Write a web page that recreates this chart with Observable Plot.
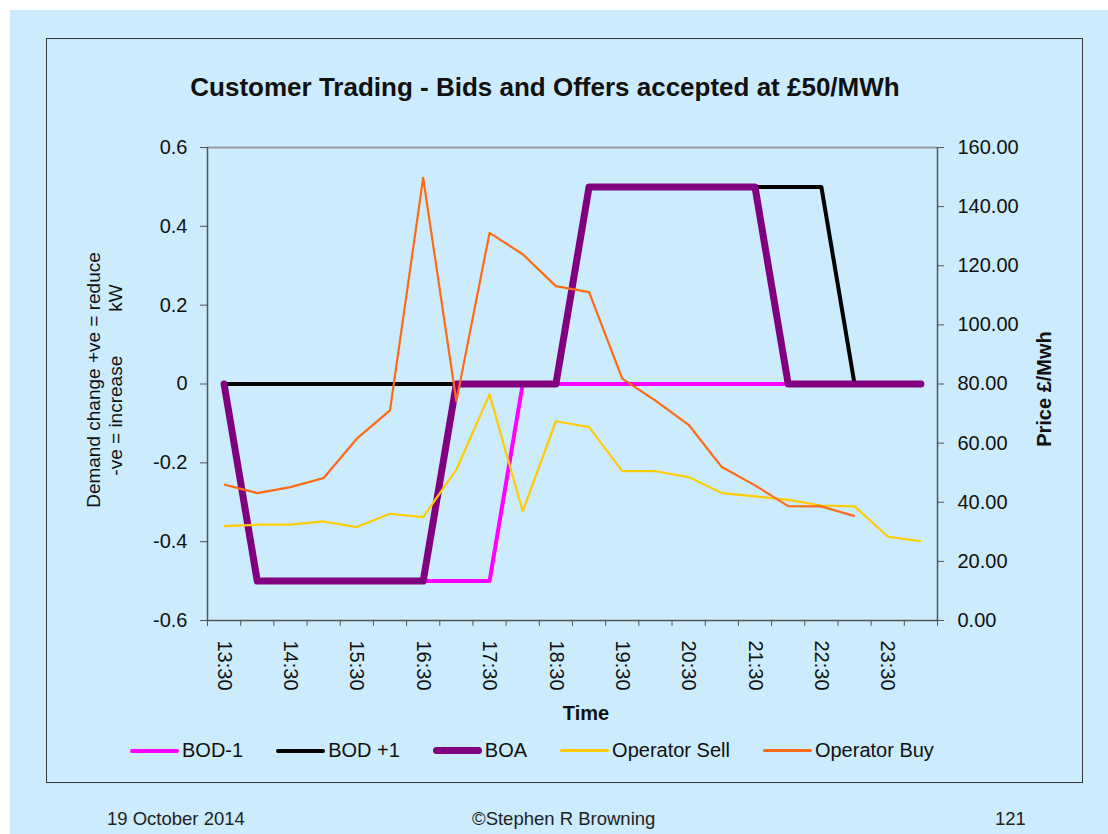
<!DOCTYPE html>
<html>
<head>
<meta charset="utf-8">
<script src="https://cdn.jsdelivr.net/npm/d3@7"></script>
<script src="https://cdn.jsdelivr.net/npm/@observablehq/plot@0.6"></script>
<style>
  body { margin: 0; background: #ffffff; }
  #page { position: relative; width: 1108px; height: 834px; overflow: hidden;
          font-family: "Liberation Sans", Arial, sans-serif; color: #111; }
  #bg { position: absolute; left: 10px; top: 10px; right: 0; bottom: 0; background: #CCEBFC; }
  #box { position: absolute; left: 46px; top: 38px; width: 1035px; height: 743px;
         border: 1.5px solid #3a3a3a; }
  #chart { position: absolute; left: 0; top: 0; }
  .title { position: absolute; left: 0; width: 1090px; top: 72px; text-align: center;
           font-weight: bold; font-size: 26px; }
  .ylab { position: absolute; left: 105px; top: 380px; width: 0; height: 0; }
  .ylab div { position: absolute; transform: translate(-50%, -50%) rotate(-90deg);
              white-space: pre; text-align: center; font-size: 19px; line-height: 22px; }
  .ylab2 { position: absolute; left: 1044px; top: 389px; width: 0; height: 0; }
  .ylab2 div { position: absolute; transform: translate(-50%, -50%) rotate(-90deg);
               white-space: pre; font-size: 20px; font-weight: bold; }
  .xlab { position: absolute; left: 0; width: 1172px; top: 702px; text-align: center;
          font-size: 20px; font-weight: bold; }
  #legend { position: absolute; left: 130px; top: 739px; display: flex; gap: 33px;
            font-size: 20px; align-items: center; }
  .item { display: flex; align-items: center; }
  .swatch { width: 49px; margin-right: 3px; border-radius: 4px; }
  .foot { position: absolute; top: 808px; font-size: 18.5px; color: #222; }
</style>
</head>
<body>
<div id="page">
  <div id="bg"></div>
  <div id="box"></div>
  <div id="chart"></div>
  <div class="title">Customer Trading - Bids and Offers accepted at £50/MWh</div>
  <div class="ylab"><div>Demand change +ve = reduce
-ve = increase<span style="display:inline-block;width:44px"></span>kW</div></div>
  <div class="ylab2"><div>Price £/Mwh</div></div>
  <div class="xlab">Time</div>
  <div id="legend"></div>
  <div class="foot" style="left:107px">19 October 2014</div>
  <div class="foot" style="left:472px">©Stephen R Browning</div>
  <div class="foot" style="left:995px">121</div>
</div>
<script>
// ---- data ----
const categories = ["13:30","14:00","14:30","15:00","15:30","16:00","16:30","17:00","17:30","18:00","18:30",
  "19:00","19:30","20:00","20:30","21:00","21:30","22:00","22:30","23:00","23:30","00:00"];
const bodMinus1 = [0,-0.5,-0.5,-0.5,-0.5,-0.5,-0.5,-0.5,-0.5,0,0,0,0,0,0,0,0,0,0,0,0,0];
const bodPlus1  = [0,0,0,0,0,0,0,0,0,0,0,0.5,0.5,0.5,0.5,0.5,0.5,0.5,0.5,0,0,0];
const boa       = [0,-0.5,-0.5,-0.5,-0.5,-0.5,-0.5,0,0,0,0,0.5,0.5,0.5,0.5,0.5,0.5,0,0,0,0,0];
const operatorSell = [31.9,32.4,32.4,33.5,31.6,36.1,35.0,51.0,76.5,36.9,67.4,65.4,50.5,50.5,48.5,43.1,42.0,40.8,38.9,38.6,28.4,26.8];
const operatorBuy  = [46.0,43.1,45.1,48.2,61.5,71.1,149.7,74.2,131.1,123.9,113.1,111.1,81.8,74.4,66.2,51.9,45.7,38.7,38.6,35.3];
const leftTicks  = [-0.6,-0.4,-0.2,0,0.2,0.4,0.6];
const rightTicks = [0,20,40,60,80,100,120,140,160];
const xLabelIdx  = [0,2,4,6,8,10,12,14,16,18,20];

// series meta
const series = [
  {name: "BOD-1", values: bodMinus1, axis: "left", color: "#FF00FF", width: 4},
  {name: "BOD +1", values: bodPlus1, axis: "left", color: "#000000", width: 4},
  {name: "BOA", values: boa, axis: "left", color: "#800080", width: 7},
  {name: "Operator Sell", values: operatorSell, axis: "right", color: "#FFCC00", width: 2.2},
  {name: "Operator Buy", values: operatorBuy, axis: "right", color: "#FF6A14", width: 2.2}
];

// secondary axis (0..160) mapped onto primary (-0.6..0.6)
const leftMin = -0.6, leftMax = 0.6, rightMin = 0, rightMax = 160;
const toLeft = p => leftMin + (p - rightMin) / (rightMax - rightMin) * (leftMax - leftMin);
const fromLeft = v => rightMin + (v - leftMin) / (leftMax - leftMin) * (rightMax - rightMin);

const rows = series.map(s => s.values.map((v, i) => ({
  i, v: s.axis === "left" ? v : toLeft(v)
})));
const boundaries = d3.range(categories.length + 1).map(i => i - 0.5);

const fmtLeft = d => { const r = Math.round(d * 10) / 10; return r === 0 ? "0" : r.toFixed(1); };

const plot = Plot.plot({
  width: 1108,
  height: 834,
  marginLeft: 207,
  marginRight: 171,
  marginTop: 147,
  marginBottom: 214,
  style: {background: "transparent", fontFamily: "Liberation Sans, Arial, sans-serif", fontSize: "20px", color: "#111"},
  x: {type: "linear", domain: [-0.5, categories.length - 0.5], label: null},
  y: {domain: [leftMin, leftMax], label: null},
  marks: [
    Plot.ruleY([leftMax], {stroke: "#9a9a9a", strokeWidth: 2}),
    Plot.ruleX([-0.5], {stroke: "#555", strokeWidth: 1.5}),
    Plot.ruleX([categories.length - 0.5], {stroke: "#555", strokeWidth: 1.5}),
    Plot.ruleY([leftMin], {stroke: "#555", strokeWidth: 1.5}),
    Plot.axisY(leftTicks, {anchor: "left", tickSize: 7, tickPadding: 13, tickFormat: fmtLeft, stroke: "#555", label: null}),
    Plot.axisY(rightTicks.map(toLeft), {anchor: "right", tickSize: 6, tickPadding: 14,
      tickFormat: v => fromLeft(v).toFixed(2), stroke: "#555", label: null}),
    Plot.axisX(boundaries, {anchor: "bottom", tickSize: 6, tickFormat: () => "", stroke: "#555", label: null}),
    Plot.axisX(xLabelIdx, {anchor: "bottom", tickSize: 0, tickPadding: 20, tickRotate: 90,
      tickFormat: i => categories[i], label: null}),
    ...series.map((s, k) => Plot.line(rows[k], {
      x: "i", y: "v", stroke: s.color, strokeWidth: s.width,
      strokeLinejoin: "round", strokeLinecap: s.width > 5 ? "round" : "butt"
    }))
  ]
});
document.getElementById("chart").appendChild(plot);

// legend
const legend = document.getElementById("legend");
for (const s of series) {
  const item = document.createElement("div");
  item.className = "item";
  const sw = document.createElement("div");
  sw.className = "swatch";
  sw.style.height = (s.width) + "px";
  sw.style.background = s.color;
  const label = document.createElement("span");
  label.textContent = s.name;
  item.appendChild(sw);
  item.appendChild(label);
  legend.appendChild(item);
}
</script>
</body>
</html>
